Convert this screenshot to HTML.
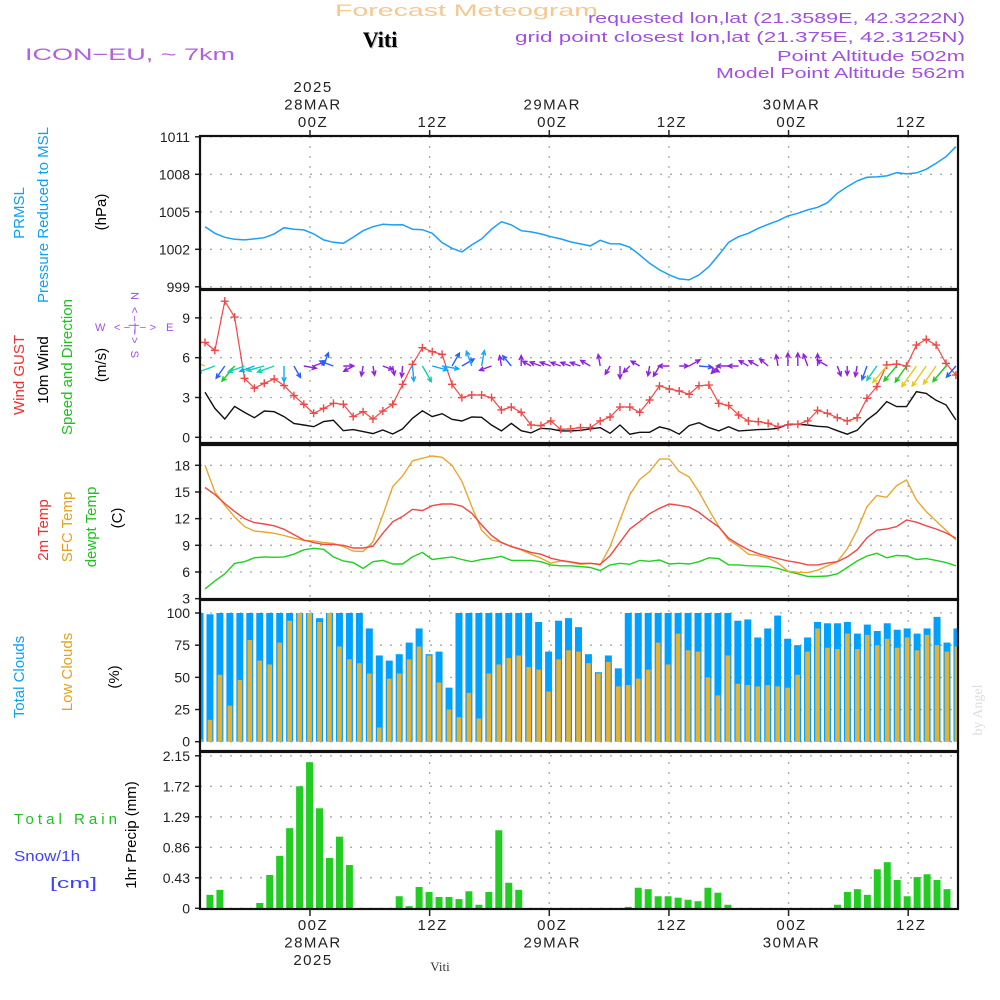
<!DOCTYPE html>
<html><head><meta charset="utf-8"><title>Forecast Meteogram Viti</title>
<style>
html,body{margin:0;padding:0;background:#fff;}
svg{display:block;font-family:"Liberation Sans",sans-serif;}
.tk{font-size:14px;fill:#222;}
.ax{font-size:15px;fill:#222;letter-spacing:1.5px;}
</style></head>
<body>
<svg id="chart" width="1000" height="1000" viewBox="0 0 1000 1000">
<text x="335" y="16" textLength="263" lengthAdjust="spacingAndGlyphs" font-size="17" fill="#f5c890">Forecast Meteogram</text>
<text x="381" y="48" text-anchor="middle" font-size="22" font-weight="bold" font-family="Liberation Serif,serif" fill="#bbb">Viti</text>
<text x="380" y="47" text-anchor="middle" font-size="22" font-weight="bold" font-family="Liberation Serif,serif" fill="#000">Viti</text>
<text x="25" y="60" textLength="210" lengthAdjust="spacingAndGlyphs" font-size="17" fill="#b060e0">ICON−EU, ~ 7km</text>
<g font-size="15" fill="#a050e0">
<text x="588" y="23" textLength="377" lengthAdjust="spacingAndGlyphs">requested lon,lat (21.3589E, 42.3222N)</text>
<text x="515" y="42" textLength="450" lengthAdjust="spacingAndGlyphs">grid point closest lon,lat (21.375E, 42.3125N)</text>
<text x="777" y="61" textLength="188" lengthAdjust="spacingAndGlyphs">Point Altitude 502m</text>
<text x="716" y="78" textLength="249" lengthAdjust="spacingAndGlyphs">Model Point Altitude 562m</text>
</g>
<g id="grid"></g>
<g id="marks"></g>
<g id="frames"></g>
<g id="labels"></g>
<g font-size="15">
<text transform="translate(24,213) rotate(-90)" text-anchor="middle" fill="#10a0f0">PRMSL</text>
<text transform="translate(48,215) rotate(-90)" text-anchor="middle" fill="#10a0f0">Pressure Reduced to MSL</text>
<text transform="translate(106,212) rotate(-90)" text-anchor="middle" fill="#000">(hPa)</text>
<text transform="translate(24,375) rotate(-90)" text-anchor="middle" fill="#ee3030">Wind GUST</text>
<text transform="translate(48,370) rotate(-90)" text-anchor="middle" fill="#000">10m Wind</text>
<text transform="translate(72,367) rotate(-90)" text-anchor="middle" fill="#20c020">Speed and Direction</text>
<text transform="translate(106,365) rotate(-90)" text-anchor="middle" fill="#000">(m/s)</text>
<text transform="translate(48,530) rotate(-90)" text-anchor="middle" fill="#ee3030">2m Temp</text>
<text transform="translate(72,527) rotate(-90)" text-anchor="middle" fill="#e8a020">SFC Temp</text>
<text transform="translate(96,527) rotate(-90)" text-anchor="middle" fill="#20c020">dewpt Temp</text>
<text transform="translate(122,518) rotate(-90)" text-anchor="middle" fill="#000">(C)</text>
<text transform="translate(24,677) rotate(-90)" text-anchor="middle" fill="#10a0f0">Total Clouds</text>
<text transform="translate(72,672) rotate(-90)" text-anchor="middle" fill="#e8a020">Low Clouds</text>
<text transform="translate(119,677) rotate(-90)" text-anchor="middle" fill="#000">(%)</text>
<text transform="translate(136,835) rotate(-90)" text-anchor="middle" fill="#000">1hr Precip (mm)</text>
<text x="14" y="824" textLength="103" lengthAdjust="spacing" fill="#20c020">Total  Rain</text>
<text x="14" y="861" textLength="66" lengthAdjust="spacingAndGlyphs" fill="#4040ff">Snow/1h</text>
<text x="50" y="888" textLength="47" lengthAdjust="spacingAndGlyphs" fill="#4040ff">[cm]</text>
</g>
<g font-size="11" fill="#a050e0">
<text x="95" y="331">W</text>
<text x="114" y="331" textLength="42" lengthAdjust="spacing">&lt;−|−&gt;</text>
<text x="166" y="331">E</text>
<text transform="translate(131,292) rotate(90)" textLength="66" lengthAdjust="spacing">N &lt;−|−&gt; S</text>
</g>
<text transform="translate(982,710) rotate(-90)" text-anchor="middle" font-size="14" font-family="Liberation Serif,serif" fill="#ddd">by Angel</text>
<text x="440" y="971" text-anchor="middle" font-size="13" font-family="Liberation Serif,serif" fill="#333">Viti</text>
</svg>
<script>
const pressure=[1003.81,1003.28,1002.96,1002.8,1002.75,1002.83,1002.93,1003.23,1003.73,1003.6,1003.55,1003.23,1002.75,1002.56,1002.48,1002.96,1003.49,1003.81,1004.0,1003.95,1003.97,1003.6,1003.57,1003.28,1002.53,1002.08,1001.79,1002.35,1002.83,1003.6,1004.21,1003.95,1003.49,1003.39,1003.23,1003.01,1002.83,1002.59,1002.43,1002.27,1002.72,1002.45,1002.43,1002.16,1001.55,1000.88,1000.35,999.95,999.63,999.55,999.95,1000.61,1001.55,1002.56,1003.01,1003.28,1003.68,1004.0,1004.29,1004.67,1004.88,1005.15,1005.36,1005.73,1006.48,1007.01,1007.47,1007.76,1007.79,1007.87,1008.13,1008.03,1008.11,1008.4,1008.88,1009.41,1010.21];
const gust=[7.15,6.55,10.26,9.06,4.44,3.7,4.07,4.4,3.9,3.14,2.49,1.81,2.18,2.56,2.49,1.56,1.93,1.38,1.98,2.49,3.99,5.5,6.75,6.45,6.25,3.99,2.99,3.19,3.19,2.99,2.06,2.28,1.88,0.93,0.88,1.23,0.6,0.63,0.73,0.73,1.23,1.53,2.28,2.28,1.88,2.81,3.87,3.64,3.49,3.24,3.89,3.94,2.56,2.39,1.68,1.23,1.18,1.05,0.8,0.93,0.98,1.23,2.03,1.81,1.48,1.23,1.48,2.94,3.82,5.45,5.52,5.37,6.95,7.38,6.95,5.57,4.69];
const wind10=[3.39,2.18,1.38,2.33,1.88,1.48,1.98,1.93,1.56,1.05,0.93,0.8,1.18,1.28,0.5,0.58,0.43,0.28,0.55,0.25,0.63,1.43,2.0,1.56,1.78,1.36,1.23,1.53,1.51,0.93,0.48,1.05,0.5,0.33,0.68,0.63,0.48,0.48,0.53,0.63,0.73,0.3,0.93,0.23,0.38,0.38,0.78,0.6,0.23,0.88,1.1,0.73,0.48,0.8,0.48,0.53,0.58,0.6,0.68,0.98,0.98,0.93,0.83,0.78,0.5,0.23,0.53,1.31,1.86,2.69,2.31,2.31,3.44,3.31,2.79,2.44,1.31];
const windDir=[200,160,125,130,160,160,165,160,90,60,10,-20,-70,200,0,150,100,80,20,80,95,85,60,15,10,-60,-30,-110,-80,160,-100,-130,-90,-150,-160,-160,-160,-160,-160,-150,-100,120,90,135,-150,100,120,180,0,-30,5,30,135,180,180,-150,-150,-140,-100,-90,-90,-110,-90,-150,70,90,100,110,125,130,130,125,125,125,125,130,130];
const temp2m=[15.5,14.7,13.7,12.8,12.0,11.55,11.4,11.2,10.8,10.2,9.6,9.3,9.1,9.1,9.0,8.7,8.7,8.9,10.35,11.65,12.25,13.05,12.9,13.45,13.65,13.65,13.4,12.6,11.3,10.1,9.3,8.85,8.55,8.2,8.0,7.55,7.3,7.15,6.95,6.98,6.86,7.84,9.34,10.84,11.66,12.56,13.16,13.65,13.5,13.3,12.7,11.85,11.06,9.8,9.1,8.5,8.06,7.76,7.5,7.24,7.05,6.8,6.8,7.0,7.16,7.7,8.5,9.86,10.7,10.84,11.1,11.85,11.6,11.2,10.84,10.4,9.8];
const tempSfc=[18.0,15.0,13.5,12.2,11.1,10.6,10.5,10.35,10.1,9.8,9.55,9.5,9.3,9.2,8.85,8.35,8.3,9.4,12.4,15.6,16.8,18.5,18.8,19.05,18.9,18.0,16.2,13.35,10.7,9.6,9.35,8.85,8.5,8.0,7.55,7.0,7.25,7.1,6.86,6.98,6.8,8.85,11.85,14.7,16.4,17.3,18.7,18.7,17.3,16.7,15.0,13.0,11.1,9.6,8.9,8.0,7.84,7.55,7.0,6.1,5.96,5.93,6.2,6.7,7.16,8.6,10.7,13.35,14.6,14.4,15.7,16.35,14.1,12.8,11.74,10.7,9.6];
const dewpt=[4.1,5.0,5.8,6.96,7.16,7.6,7.7,7.65,7.7,8.0,8.5,8.66,8.55,7.7,7.24,7.05,6.4,7.16,7.3,6.9,6.9,7.7,8.2,7.4,7.55,7.7,7.4,7.16,7.4,7.55,7.76,7.3,7.3,7.3,7.16,6.8,6.7,6.7,6.6,6.5,6.15,6.8,6.98,6.86,7.3,7.2,7.35,6.9,6.98,6.9,7.16,7.6,7.5,6.8,6.8,6.7,6.66,6.6,6.4,6.05,5.8,5.5,5.5,5.55,5.8,6.5,7.24,7.8,8.1,7.6,7.86,7.8,7.4,7.5,7.3,7.05,6.7];
const totalClouds=[100,99,100,100,100,100,100,100,100,100,100,100,96,100,100,100,100,88,67,63,68,77,88,68,70,42,100,100,100,100,100,100,100,100,93,70,94,96,89,68,54,67,57,100,100,100,100,100,100,100,100,100,100,100,94,95,81,88,98,80,75,81,93,92,92,93,84,91,86,92,87,88,84,88,97,77,88];
const lowClouds=[2,17,52,28,48,79,63,60,77,94,100,100,93,100,74,64,61,53,11,49,53,64,74,67,46,25,19,38,18,53,60,65,67,58,56,39,64,71,70,61,53,62,43,44,49,56,77,60,84,71,70,50,36,67,45,44,43,44,43,42,52,70,88,73,72,84,72,83,75,80,73,81,71,83,75,70,74];
const precip=[0,0.19,0.26,0,0,0,0.075,0.47,0.74,1.13,1.72,2.06,1.41,0.71,1.01,0.61,0,0,0,0,0.17,0.03,0.30,0.23,0.16,0.16,0.13,0.24,0.05,0.23,1.10,0.36,0.26,0,0,0,0,0,0,0,0,0,0,0.02,0.29,0.27,0.17,0.17,0.15,0.12,0.10,0.29,0.22,0.05,0,0,0,0,0,0,0,0,0,0,0.05,0.23,0.27,0.19,0.55,0.65,0.40,0.17,0.44,0.48,0.40,0.27,0];
const pTicks=[999,1002,1005,1008,1011];
const wTicks=[0,3,6,9];
const tTicks=[3,6,9,12,15,18];
const cTicks=[0,25,50,75,100];
const rTicks=["0","0.43","0.86","1.29","1.72","2.15"];
const gridHours=[0,12,24,36,48,60];
const topLabels=[["2025","28MAR","00Z"],["","","12Z"],["","29MAR","00Z"],["","","12Z"],["","30MAR","00Z"],["","","12Z"]];
const botLabels=[["00Z","28MAR","2025"],["12Z","",""],["00Z","29MAR",""],["12Z","",""],["00Z","30MAR",""],["12Z","",""]];

const NS='http://www.w3.org/2000/svg';
const L=200,R=958;
const panels=[{t:136,b:289},{t:290,b:443},{t:445,b:599},{t:600,b:751},{t:752,b:909}];
const xH=h=>310+9.97*h;
const xLine=i=>205+9.88*i;
const xBar=i=>200+9.96*i;
const yP=v=>174.3-(v-1008)*12.5;
const yW=v=>437.3-v*13.27;
const yT=v=>465.3+(18-v)*8.89;
const yC=v=>741.7-v*1.287;
const yR=v=>908.3-v*70.93;
function mk(tag,attrs,parent){const e=document.createElementNS(NS,tag);for(const k in attrs)e.setAttribute(k,attrs[k]);parent.appendChild(e);return e;}
const grid=document.getElementById('grid'),marks=document.getElementById('marks'),frames=document.getElementById('frames'),labels=document.getElementById('labels');

const defs=mk('defs',{},document.getElementById('chart'));
const cp=mk('clipPath',{id:'plotclip'},defs);
mk('rect',{x:L,y:130,width:R-L,height:790},cp);
marks.setAttribute('clip-path','url(#plotclip)');

const dash={stroke:'#aaa','stroke-width':1.3,'stroke-dasharray':'2,8'};
function hgrid(vals,fy){vals.forEach(v=>{const y=fy(typeof v==='string'?parseFloat(v):v);
 const g=mk('line',Object.assign({x1:L,x2:R,y1:y,y2:y},dash),grid);
 
 
 const t=mk('text',{x:190,y:y+5,'text-anchor':'end',class:'tk'},labels);
 t.textContent=v;
 
 
 mk('line',{x1:L-5,x2:L,y1:y,y2:y,stroke:'#222','stroke-width':1.5},frames);});}
hgrid(pTicks,yP);hgrid(wTicks,yW);hgrid(tTicks,yT);hgrid(cTicks,yC);hgrid(rTicks,yR);
panels.forEach(p=>{gridHours.forEach(h=>{const x=xH(h);
 const g=mk('line',Object.assign({x1:x,x2:x,y1:p.t,y2:p.b},dash),grid);
 
 });
 const f=mk('rect',{x:L,y:p.t,width:R-L,height:p.b-p.t,fill:'none',stroke:'#111','stroke-width':2.2},frames);
 
 });
gridHours.forEach((h,j)=>{const x=xH(h)+3;
 mk('line',{x1:x-3,x2:x-3,y1:130,y2:136,stroke:'#222','stroke-width':1.5},frames);
 mk('line',{x1:x-3,x2:x-3,y1:909,y2:916,stroke:'#222','stroke-width':1.5},frames);
 topLabels[j].forEach((s,k)=>{if(!s)return;const t=mk('text',{x:x,y:92+k*17.5,'text-anchor':'middle',class:'ax'},labels);t.textContent=s;
  
  });
 botLabels[j].forEach((s,k)=>{if(!s)return;const t=mk('text',{x:x,y:930+k*17.5,'text-anchor':'middle',class:'ax'},labels);t.textContent=s;
  
  });});

function line(arr,fy,color,name,w){const d=arr.map((v,i)=>(i?'L':'M')+xLine(i).toFixed(1)+','+fy(v).toFixed(1)).join('');
 const p=mk('path',{d:d,fill:'none',stroke:color,'stroke-width':w||1.4},marks);
 
 return p;}

line(pressure,yP,'#1aa0f5','pressure-line',1.5);
line(wind10,yW,'#111','wind-10m-line',1.4);
line(gust,yW,'#f04848','wind-gust-line',1.2);
gust.forEach((v,i)=>{const x=xLine(i),y=yW(v);
 const g=mk('path',{d:`M${x-4},${y}H${x+4}M${x},${y-4}V${y+4}`,stroke:'#f04848','stroke-width':1.4},marks);
 
 });
function wcol(s){return s<1?'#9020e0':s<1.4?'#2860ff':s<1.8?'#10a8ff':s<2.2?'#10d0b0':s<2.6?'#20c820':'#e8c820';}
windDir.forEach((a,i)=>{const s=wind10[i],len=8+5*s,x0=xLine(i),y0=366,r=a*Math.PI/180;
 const x1=x0+len*Math.cos(r),y1=y0+len*Math.sin(r);
 const h1=r+Math.PI-0.45,h2=r+Math.PI+0.45;
 const d=`M${x0.toFixed(1)},${y0}L${x1.toFixed(1)},${y1.toFixed(1)}M${(x1+5*Math.cos(h1)).toFixed(1)},${(y1+5*Math.sin(h1)).toFixed(1)}L${x1.toFixed(1)},${y1.toFixed(1)}L${(x1+5*Math.cos(h2)).toFixed(1)},${(y1+5*Math.sin(h2)).toFixed(1)}`;
 const p=mk('path',{d:d,fill:'none',stroke:wcol(s),'stroke-width':1.4},marks);
 
 });
line(dewpt,yT,'#20d020','dewpoint-line',1.4);
line(tempSfc,yT,'#e8a830','sfc-temp-line',1.4);
line(temp2m,yT,'#f04848','temp-2m-line',1.4);
totalClouds.forEach((v,i)=>{const x=xBar(i),y=yC(v);
 const b=mk('rect',{x:x-3.5,y:y,width:7,height:yC(0)-y,fill:'#00a0ff'},marks);
 
 });
lowClouds.forEach((v,i)=>{const x=xBar(i),y=yC(v);
 const b=mk('rect',{x:x-2.3,y:y,width:4.6,height:yC(0)-y,fill:'#e8b030'},marks);
 
 });
precip.forEach((v,i)=>{if(v<=0)return;const x=xBar(i),y=yR(v);
 const b=mk('rect',{x:x-3.5,y:y,width:7,height:yR(0)-y,fill:'#22cc22'},marks);
 
 });
</script>
</body></html>
